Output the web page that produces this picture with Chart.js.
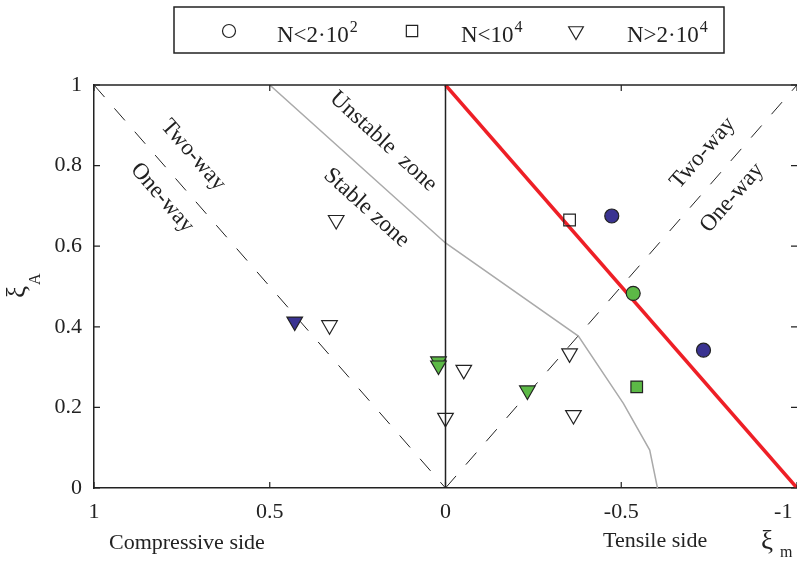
<!DOCTYPE html>
<html>
<head>
<meta charset="utf-8">
<script src="https://cdn.jsdelivr.net/npm/chart.js@4/dist/chart.umd.min.js"></script>
<style>
  html, body { margin: 0; padding: 0; background: #fff; overflow: hidden; }
  #wrap { width: 797px; height: 561px; overflow: hidden; }
</style>
</head>
<body>
<div id="wrap"><canvas id="chart" width="830" height="561"></canvas></div>
<script>
const FONT = "'Liberation Serif', 'Times New Roman', serif";

// axes
const xTicks = [-1, -0.5, 0, 0.5, 1];
const xTickLabels = ['-1', '-0.5', '0', '0.5', '1'];
const yTicks = [0, 0.2, 0.4, 0.6, 0.8, 1];
const yTickLabels = ['0', '0.2', '0.4', '0.6', '0.8', '1'];

// N<2·10^2 (circles)
const circleX = [-0.473, -0.534, -0.734];
const circleY = [0.675, 0.483, 0.342];
const circleFill = ['blue', 'green', 'blue'];

// N<10^4 (squares)
const squareX = [-0.353, -0.544];
const squareY = [0.665, 0.251];
const squareFill = ['open', 'green'];

// N>2·10^4 (triangles)
const triX = [0.311, 0.429, 0.330, 0.02, 0.02, -0.052, 0, -0.353, -0.233, -0.364];
const triY = [0.665, 0.413, 0.404, 0.314, 0.304, 0.293, 0.174, 0.334, 0.242, 0.181];
const triFill = ['open', 'blue', 'open', 'green', 'green', 'open', 'open', 'open', 'green', 'open'];

// boundary lines
const limitX = [0, -1];
const limitY = [1, 0];
const stableX = [0.5, 0, -0.378, -0.506, -0.581, -0.603];
const stableY = [1, 0.608, 0.377, 0.21, 0.094, 0];
const leftDashX = [1, 0];
const leftDashY = [1, 0];
const rightDashX = [0, -1];
const rightDashY = [0, 1];
const zeroX = [0, 0];
const zeroY = [0, 1];

// in-plot notes
const noteText = ['Two-way', 'One-way', 'Unstable  zone', 'Stable zone', 'Two-way', 'One-way'];
const noteX = [0.718, 0.806, 0.177, 0.225, -0.732, -0.815];
const noteY = [0.826, 0.72, 0.86, 0.695, 0.831, 0.72];
const noteAngle = [49, 49, 42.5, 42, -49, -49];

const fills = { open: 'rgba(0,0,0,0)', blue: '#3a3391', green: '#5cb946' };
const xy = (xs, ys) => xs.map((x, i) => ({ x: x, y: ys[i] }));

function lineSet(xs, ys, color, width, dash, order) {
  return {
    data: xy(xs, ys), showLine: true, borderColor: color, borderWidth: width,
    borderDash: dash, pointRadius: 0, tension: 0, order: order
  };
}

const framePlugin = {
  id: 'frame',
  afterDraw(chart) {
    const { ctx, chartArea: a, scales: { x, y } } = chart;
    ctx.save();
    ctx.strokeStyle = '#222';
    ctx.lineWidth = 1.5;
    ctx.beginPath();
    ctx.moveTo(a.left, a.top);
    ctx.lineTo(a.right, a.top);
    ctx.stroke();

    // inward ticks, MATLAB style
    ctx.lineWidth = 1.2;
    ctx.beginPath();
    xTicks.forEach(v => {
      const px = x.getPixelForValue(v);
      ctx.moveTo(px, a.bottom); ctx.lineTo(px, a.bottom - 6);
      ctx.moveTo(px, a.top); ctx.lineTo(px, a.top + 6);
    });
    yTicks.forEach(v => {
      const py = y.getPixelForValue(v);
      ctx.moveTo(a.left, py); ctx.lineTo(a.left + 6, py);
      ctx.moveTo(a.right, py); ctx.lineTo(a.right - 6, py);
    });
    ctx.stroke();

    // notes
    ctx.fillStyle = '#222';
    ctx.font = '23px ' + FONT;
    ctx.textAlign = 'center';
    ctx.textBaseline = 'middle';
    noteText.forEach((t, i) => {
      ctx.save();
      ctx.translate(x.getPixelForValue(noteX[i]), y.getPixelForValue(noteY[i]));
      ctx.rotate(noteAngle[i] * Math.PI / 180);
      ctx.fillText(t, 0, 0);
      ctx.restore();
    });

    // axis texts
    ctx.textAlign = 'left';
    ctx.textBaseline = 'alphabetic';
    ctx.font = '22px ' + FONT;
    ctx.fillText('Compressive side', 109, 549);
    ctx.fillText('Tensile side', 603, 547);
    ctx.font = '27px ' + FONT;
    ctx.fillText('ξ', 761, 549);
    ctx.font = '16px ' + FONT;
    ctx.fillText('m', 780, 557);

    ctx.save();
    ctx.translate(25, 292);
    ctx.rotate(-Math.PI / 2);
    ctx.font = '27px ' + FONT;
    ctx.textAlign = 'center';
    ctx.fillText('ξ', 0, 0);
    ctx.textAlign = 'left';
    ctx.font = '16px ' + FONT;
    ctx.fillText('A', 7, 15);
    ctx.restore();

    // legend
    ctx.lineWidth = 1.5;
    ctx.strokeRect(174, 7, 550, 46);
    const items = [
      { style: 'circle', r: 6.5, rot: 0, mx: 229, tx: 277, base: 'N<2·10', sup: '2' },
      { style: 'rect', r: 8, rot: 0, mx: 412, tx: 461, base: 'N<10', sup: '4' },
      { style: 'triangle', r: 8.5, rot: 180, mx: 576, tx: 627, base: 'N>2·10', sup: '4' }
    ];
    items.forEach(it => {
      ctx.fillStyle = 'rgba(0,0,0,0)';
      ctx.strokeStyle = '#222';
      ctx.lineWidth = 1.2;
      Chart.helpers.drawPoint(ctx, { pointStyle: it.style, radius: it.r, rotation: it.rot, borderWidth: 1.2 }, it.mx, 31);
      ctx.fillStyle = '#222';
      ctx.font = '23px ' + FONT;
      ctx.fillText(it.base, it.tx, 42);
      const w = ctx.measureText(it.base).width;
      ctx.font = '16px ' + FONT;
      ctx.fillText(it.sup, it.tx + w + 1, 32);
    });
    ctx.restore();
  }
};

const tickFont = { family: FONT, size: 22 };

new Chart(document.getElementById('chart'), {
  type: 'scatter',
  data: {
    datasets: [
      {
        label: 'N<2·10²', data: xy(circleX, circleY), pointStyle: 'circle', pointRadius: 7,
        pointBackgroundColor: circleFill.map(f => fills[f]), pointBorderColor: '#222',
        pointBorderWidth: 1.2, order: 0
      },
      {
        label: 'N<10⁴', data: xy(squareX, squareY), pointStyle: 'rect', pointRadius: 8.2,
        pointBackgroundColor: squareFill.map(f => fills[f]), pointBorderColor: '#222',
        pointBorderWidth: 1.2, order: 0
      },
      {
        label: 'N>2·10⁴', data: xy(triX, triY), pointStyle: 'triangle', pointRadius: 9,
        pointRotation: 180, pointBackgroundColor: triFill.map(f => fills[f]),
        pointBorderColor: '#222', pointBorderWidth: 1.2, order: 0
      },
      lineSet(limitX, limitY, '#ee1f26', 3.5, [], 1),
      lineSet(zeroX, zeroY, '#222', 1.5, [], 2),
      lineSet(stableX, stableY, '#aaaaaa', 1.5, [], 3),
      lineSet(leftDashX, leftDashY, '#222', 1, [16, 15], 4),
      lineSet(rightDashX, rightDashY, '#222', 1, [16, 15], 4)
    ]
  },
  options: {
    responsive: false,
    animation: false,
    layout: { padding: { top: 85, right: 33, left: 0, bottom: 0 } },
    plugins: { legend: { display: false }, tooltip: { enabled: false } },
    scales: {
      x: {
        type: 'linear', reverse: true, min: -1, max: 1,
        afterBuildTicks: s => { s.ticks = xTicks.map(v => ({ value: v })); },
        afterFit: s => { s.height = 73; },
        ticks: {
          font: tickFont, color: '#222', padding: 3, maxRotation: 0,
          callback: (v, i) => xTickLabels[i] + (i === 0 ? '     ' : '')
        },
        grid: { display: false },
        border: { color: '#222', width: 1.5 }
      },
      y: {
        type: 'linear', min: 0, max: 1,
        afterBuildTicks: s => { s.ticks = yTicks.map(v => ({ value: v })); },
        afterFit: s => { s.width = 94; },
        ticks: { font: tickFont, color: '#222', padding: 4, callback: (v, i) => yTickLabels[i] },
        grid: { display: false },
        border: { color: '#222', width: 1.5 }
      }
    }
  },
  plugins: [framePlugin]
});
</script>
</body>
</html>
